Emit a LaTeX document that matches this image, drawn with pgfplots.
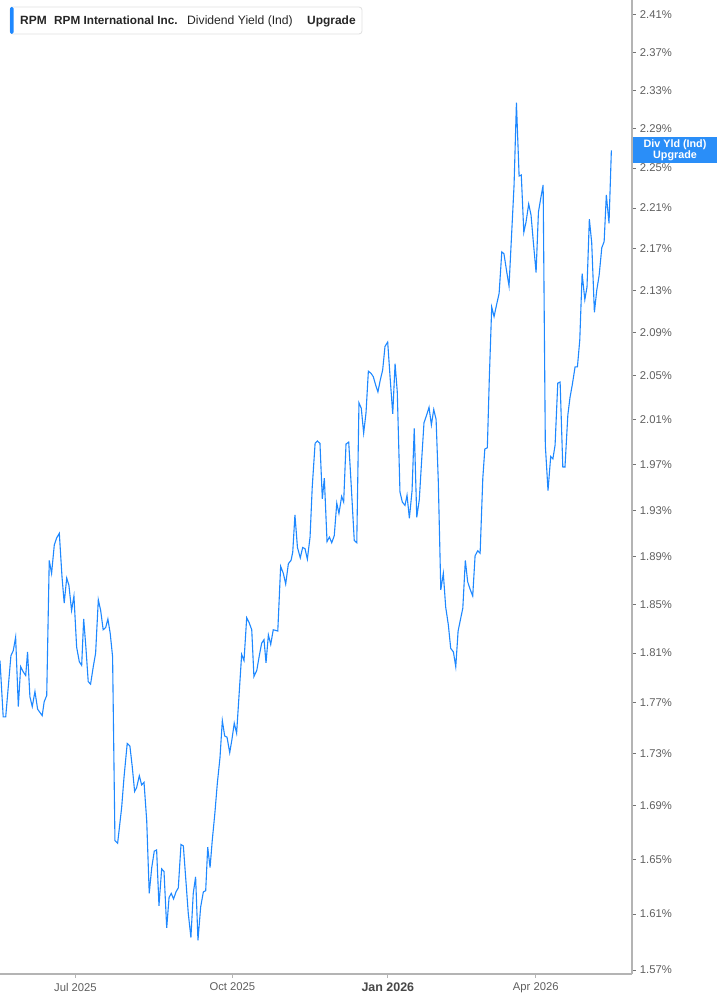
\documentclass[border=0pt]{standalone}
\usepackage{pgfplots}
\usepackage{pgfplotstable}
\pgfplotsset{compat=1.18}
\usepackage{fontspec}
\setmainfont{Liberation Sans}
\definecolor{linecol}{HTML}{1E88FF}
\definecolor{boxcol}{HTML}{2A8EF8}
\definecolor{axgray}{HTML}{B4B4B4}
\definecolor{lblgray}{HTML}{5F5F5F}
% x = days since 1 Jul 2025, y = dividend yield in %
\pgfplotstableread{
x y
-44.9 1.804
-43.0 1.759
-41.5 1.759
-38.4 1.808
-37.0 1.812
-35.6 1.823
-34.0 1.767
-32.6 1.799
-31.1 1.795
-29.6 1.792
-28.5 1.811
-27.1 1.775
-25.7 1.767
-24.1 1.779
-22.5 1.765
-19.8 1.760
-18.6 1.771
-17.1 1.776
-15.6 1.887
-14.2 1.876
-12.6 1.900
-11.2 1.906
-9.6 1.910
-8.0 1.873
-6.7 1.851
-5.2 1.872
-3.9 1.866
-2.3 1.845
-0.9 1.857
0.7 1.815
2.3 1.803
3.7 1.800
4.9 1.838
6.2 1.815
7.6 1.787
9.0 1.785
10.6 1.799
12.0 1.810
13.6 1.854
15.0 1.845
16.5 1.829
18.0 1.831
19.3 1.838
20.7 1.826
22.1 1.807
23.5 1.664
25.1 1.662
27.5 1.689
28.9 1.712
30.8 1.738
32.4 1.736
33.8 1.720
35.2 1.701
36.4 1.704
38.0 1.713
39.4 1.706
40.8 1.708
42.4 1.679
43.9 1.625
45.4 1.644
46.9 1.656
48.3 1.657
49.7 1.616
51.3 1.643
52.7 1.641
54.3 1.600
55.7 1.622
57.0 1.625
58.4 1.621
59.8 1.626
61.2 1.629
62.8 1.661
64.2 1.660
65.8 1.633
67.1 1.611
68.7 1.593
70.1 1.625
71.5 1.637
72.9 1.591
74.5 1.615
76.1 1.626
77.5 1.627
78.7 1.659
80.1 1.644
81.4 1.664
83.0 1.685
84.4 1.707
86.0 1.727
87.4 1.756
88.8 1.744
90.2 1.743
91.8 1.731
93.1 1.741
94.5 1.754
95.9 1.746
98.9 1.809
100.3 1.804
101.9 1.839
103.3 1.835
104.9 1.829
106.2 1.791
107.9 1.796
109.4 1.808
110.8 1.818
112.2 1.821
113.4 1.802
114.8 1.825
116.2 1.817
117.7 1.829
120.4 1.828
122.1 1.882
123.7 1.876
125.1 1.867
126.7 1.884
128.3 1.887
129.3 1.894
130.6 1.926
132.1 1.898
133.8 1.889
135.2 1.898
136.6 1.897
138.0 1.888
139.6 1.907
140.9 1.950
142.6 1.989
143.9 1.991
145.5 1.989
146.9 1.940
148.1 1.958
149.7 1.903
151.1 1.907
152.5 1.902
154.0 1.908
155.5 1.936
156.8 1.927
158.4 1.942
159.6 1.937
161.0 1.988
162.6 1.990
164.0 1.954
165.9 1.904
167.4 1.902
168.7 2.025
170.1 2.020
171.5 1.998
172.9 2.016
174.3 2.054
175.9 2.052
177.2 2.049
178.7 2.041
180.0 2.035
181.4 2.046
182.8 2.055
184.2 2.077
185.8 2.081
187.2 2.049
188.8 2.015
190.2 2.061
191.5 2.035
193.1 1.946
194.5 1.937
196.1 1.934
197.3 1.943
198.7 1.923
200.3 1.947
201.6 2.002
203.1 1.924
204.6 1.939
206.1 1.976
207.4 2.007
209.0 2.014
210.4 2.021
211.8 2.005
213.2 2.019
214.6 2.010
215.9 1.956
217.4 1.862
218.9 1.876
220.3 1.848
221.9 1.833
223.3 1.814
224.9 1.811
226.3 1.799
227.7 1.828
229.0 1.837
230.5 1.847
232.0 1.887
233.4 1.869
235.0 1.862
236.4 1.857
237.8 1.891
239.4 1.895
240.8 1.893
242.4 1.958
243.6 1.984
245.1 1.985
246.3 2.049
247.7 2.114
249.1 2.105
250.7 2.117
252.1 2.127
253.7 2.167
255.0 2.165
256.6 2.148
258.0 2.134
259.6 2.186
261.0 2.233
262.4 2.317
264.0 2.242
265.3 2.243
266.8 2.186
268.1 2.196
269.7 2.214
271.1 2.203
272.5 2.176
274.1 2.147
275.5 2.206
276.9 2.220
278.3 2.233
279.6 1.987
281.2 1.947
282.8 1.977
284.1 1.975
285.4 1.987
287.0 2.043
288.4 2.044
290.0 1.968
291.3 1.968
293.0 2.014
294.3 2.030
295.7 2.042
297.3 2.058
298.7 2.058
300.1 2.083
301.5 2.146
303.1 2.121
304.4 2.133
305.8 2.199
307.2 2.176
308.8 2.109
310.2 2.130
311.6 2.144
313.2 2.171
314.6 2.177
315.9 2.223
317.5 2.195
318.9 2.268
}\rpmdata
\begin{document}
\begin{tikzpicture}
\path[use as bounding box, fill=white] (0bp,0bp) rectangle (717bp,1005bp);
\begin{axis}[
  at={(0bp,31bp)}, anchor=south west,
  scale only axis, width=631.7bp, height=974bp,
  ymode=log,
  xmin=-44.9, xmax=331.0,
  ymin=1.5672, ymax=2.4263,
  axis x line*=bottom, axis y line*=right,
  axis line style={draw=axgray, line width=1.6bp},
  tick align=outside,
  major tick length=4bp,
  xminorticks=false, yminorticks=false,
  xtick={0,93.4,185.9,273.9},
  xticklabels={{Jul 2025},{Oct 2025},{\bfseries\color{black!72}\fontsize{12.5}{14}\selectfont Jan 2026},{Apr 2026}},
  ytick={1.57,1.61,1.65,1.69,1.73,1.77,1.81,1.85,1.89,1.93,1.97,2.01,2.05,2.09,2.13,2.17,2.21,2.25,2.29,2.33,2.37,2.41},
  yticklabels={1.57\%,1.61\%,1.65\%,1.69\%,1.73\%,1.77\%,1.81\%,1.85\%,1.89\%,1.93\%,1.97\%,2.01\%,2.05\%,2.09\%,2.13\%,2.17\%,2.21\%,2.25\%,2.29\%,2.33\%,2.37\%,2.41\%},
  xtick style={draw=axgray, line width=1bp},
  ytick style={draw=black!55, line width=1bp},
  xticklabel style={font=\fontsize{11.3}{13}\selectfont, text=lblgray, inner sep=0pt, yshift=-5bp},
  yticklabel style={font=\fontsize{11.3}{13}\selectfont, text=lblgray, anchor=west, inner sep=0pt, xshift=4bp},
]
\addplot[linecol, line width=1.1bp, mark=none] table[x=x,y=y] {\rpmdata};
\end{axis}
% legend box
\draw[draw=black!12, fill=white, rounded corners=3bp, line width=0.8bp] (10bp,971bp) rectangle (362bp,998bp);
\fill[linecol, rounded corners=1.5bp] (10bp,971bp) rectangle (13.5bp,998bp);
\node[anchor=base west, inner sep=0pt, font=\fontsize{12}{14}\selectfont\bfseries, text=black!85] at (20bp,980bp) {RPM};
\node[anchor=base west, inner sep=0pt, font=\fontsize{11.8}{14}\selectfont\bfseries, text=black!85] at (54bp,980bp) {RPM International Inc.};
\node[anchor=base west, inner sep=0pt, font=\fontsize{12.2}{14}\selectfont, text=black!85] at (187bp,980bp) {Dividend Yield (Ind)};
\node[anchor=base west, inner sep=0pt, font=\fontsize{12}{14}\selectfont\bfseries, text=black!85] at (307bp,980bp) {Upgrade};
% last value label
\fill[boxcol] (632.5bp,842bp) rectangle (717bp,868bp);
\node[font=\fontsize{10.8}{12}\selectfont\bfseries, text=white, inner sep=0pt] at (675bp,860bp) {Div Yld (Ind)};
\node[font=\fontsize{10.8}{12}\selectfont\bfseries, text=white, inner sep=0pt] at (675bp,849.5bp) {Upgrade};
\end{tikzpicture}
\end{document}
